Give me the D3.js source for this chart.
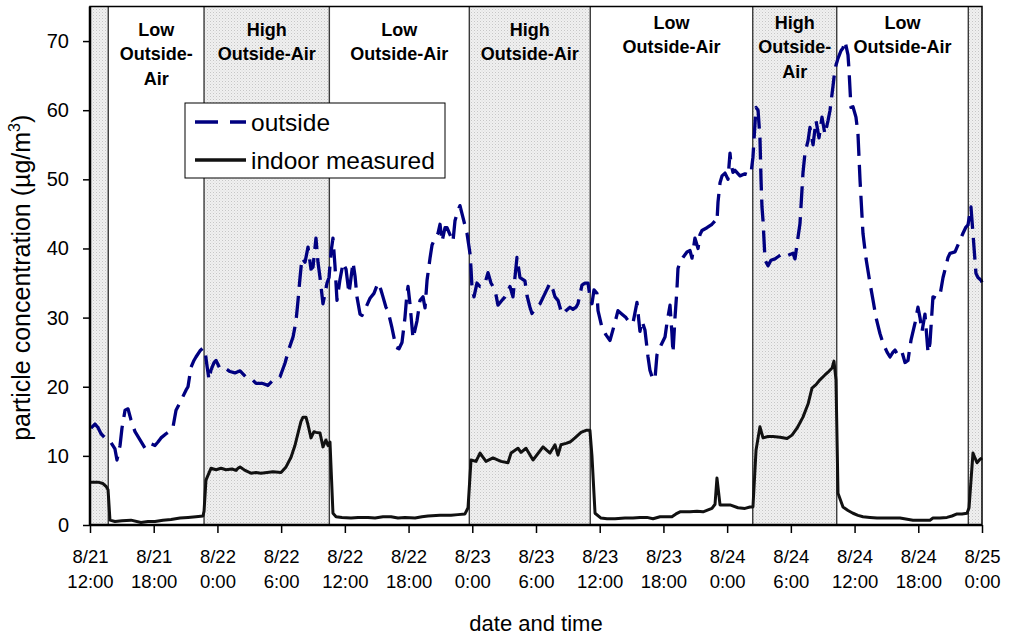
<!DOCTYPE html>
<html><head><meta charset="utf-8">
<script src="https://cdn.jsdelivr.net/npm/d3@7"></script>
<style>
body{margin:0;background:#fff}
svg{display:block;font-family:"Liberation Sans",Arial,Helvetica,sans-serif}
</style>
</head><body>
<svg id="chart" width="1010" height="637"></svg>
<script>
// ---------- DATA (hours after 8/21 12:00, concentration in µg/m3) ----------
const outsideHours = [0.09,0.47,0.75,1.04,1.41,1.98,2.35,2.54,2.83,3.01,3.30,3.58,3.86,4.24,4.71,5.18,5.65,6.12,6.40,6.69,7.16,7.53,7.82,8.10,8.57,9.04,9.23,9.51,9.79,9.98,10.36,10.64,10.83,11.02,11.21,11.39,11.68,11.87,12.24,12.71,13.18,13.65,14.13,14.69,15.16,15.63,16.20,16.76,17.14,17.52,17.89,18.36,18.74,19.12,19.40,19.59,19.78,19.96,20.25,20.53,20.81,21.00,21.28,21.47,21.66,21.94,22.13,22.32,22.51,22.70,22.88,23.07,23.26,23.54,23.83,24.11,24.39,24.77,24.96,25.14,25.43,25.61,25.99,26.37,26.74,27.12,27.40,27.59,27.87,28.06,28.44,28.82,29.10,29.38,29.66,29.85,29.95,30.13,30.42,30.79,31.08,31.36,31.55,31.74,32.02,32.21,32.49,32.77,32.96,33.15,33.43,33.62,33.90,34.18,34.37,34.65,34.84,35.12,35.50,35.78,35.88,35.97,36.16,36.44,36.73,36.91,37.20,37.48,37.76,38.14,38.42,38.80,39.08,39.55,39.83,40.21,40.49,40.78,40.96,41.15,41.43,41.62,42.00,42.38,42.85,43.32,43.60,43.79,44.07,44.35,44.54,44.82,45.20,45.48,45.77,45.95,46.33,46.61,46.90,47.08,47.27,47.46,47.74,47.84,48.21,48.59,48.97,49.44,49.72,50.10,50.47,50.85,51.13,51.51,51.79,51.98,52.26,52.55,52.73,53.02,53.21,53.39,53.77,54.15,54.33,54.62,54.80,54.90,55.09,55.27,55.37,55.56,55.84,56.22,56.50,56.69,56.97,57.26,57.44,57.63,58.10,58.57,58.86,59.04,59.14,59.33,59.52,59.80,60.08,60.27,60.36,60.55,60.74,61.21,61.68,62.06,62.25,62.43,62.62,62.72,62.91,63.09,63.19,63.28,63.38,63.57,63.85,64.13,64.51,64.79,65.26,65.73,66.20,66.39,66.67,66.86,67.14,67.33,67.62,67.80,68.09,68.37,68.65,68.93,69.21,69.50,69.69,69.97,70.16,70.25,70.44,70.72,70.91,71.10,71.38,71.47,71.66,71.85,72.13,72.32,72.51,72.79,73.08,73.45,73.74,74.02,74.39,74.68,75.06,75.34,75.62,75.81,76.09,76.47,76.75,77.03,77.31,77.69,77.97,78.16,78.35,78.63,78.92,79.10,79.38,79.67,80.04,80.33,80.61,80.80,80.99,81.46,81.93,82.21,82.49,82.68,82.96,83.15,83.43,83.62,83.91,84.00];
const outsideValues = [14.0,14.6,14.1,13.2,12.6,11.9,11.0,9.4,11.5,14.0,16.6,16.8,15.2,13.5,12.3,11.1,11.8,11.5,12.0,12.6,13.2,13.6,14.2,16.6,18.0,19.5,20.0,22.8,23.8,24.3,25.2,25.6,25.2,23.0,21.0,22.4,23.5,23.8,22.6,22.7,22.2,22.0,22.3,21.4,21.2,20.5,20.5,20.2,20.8,21.0,21.4,23.4,25.5,27.2,29.5,32.5,35.8,38.6,38.0,40.2,37.0,37.3,41.5,38.0,35.8,32.0,33.5,35.0,35.8,39.5,41.5,37.5,32.5,35.5,37.9,37.0,33.5,38.0,36.0,33.0,30.5,30.3,31.5,32.8,33.5,35.0,34.0,33.0,31.5,31.0,28.5,25.7,25.5,26.4,30.0,33.5,34.5,32.0,27.0,29.5,32.5,33.0,31.4,35.4,38.6,40.5,41.5,42.2,43.5,41.0,43.0,43.0,42.0,41.0,44.0,45.5,46.2,44.5,42.2,39.3,37.1,34.4,33.0,35.0,34.5,34.5,35.0,36.5,35.0,34.0,31.8,32.5,33.0,34.5,33.0,38.7,35.8,35.5,35.3,33.2,31.5,30.6,31.5,32.0,33.5,35.0,34.0,33.0,32.5,31.0,30.5,31.0,31.5,31.2,31.5,32.0,34.7,35.0,35.0,33.0,32.0,34.0,33.5,31.0,28.6,27.5,26.7,29.3,31.0,30.5,30.0,29.2,29.2,32.2,28.0,29.5,28.2,24.3,22.4,21.0,21.2,24.6,26.0,27.2,29.2,31.8,27.7,24.9,30.0,34.0,37.1,38.0,38.7,39.5,39.7,38.6,41.5,40.0,42.0,42.6,43.0,43.5,44.0,43.8,46.7,49.5,50.5,50.9,50.0,53.8,52.3,51.0,51.3,50.5,50.8,50.6,50.9,53.2,58.0,60.4,60.0,56.0,50.0,46.0,44.0,38.3,37.5,38.3,38.5,38.8,39.3,39.0,39.3,38.5,41.6,43.6,50.9,53.8,55.6,57.5,55.0,58.5,56.0,59.0,56.5,58.5,60.0,63.5,66.0,66.5,67.5,68.6,69.0,70.0,68.0,66.0,60.4,60.5,59.0,56.6,50.0,42.2,38.5,35.0,32.5,30.0,27.7,26.3,25.0,24.3,25.0,25.3,24.5,25.0,23.5,23.8,26.7,29.2,31.5,30.0,28.0,30.5,24.9,26.3,33.0,32.8,33.2,35.8,37.5,38.7,39.3,39.5,41.2,42.2,43.1,43.4,46.0,42.2,36.4,35.8,35.4,35.1];

const indoorHours = [0.09,0.75,1.22,1.51,1.70,1.88,2.35,3.01,3.86,4.80,5.46,6.12,6.87,7.63,8.48,9.23,9.98,10.64,10.74,10.92,11.39,11.87,12.34,12.81,13.37,13.75,13.94,14.13,14.60,15.16,15.63,16.10,16.67,17.23,17.99,18.46,18.93,19.30,19.59,19.87,20.06,20.34,20.53,20.81,21.09,21.28,21.66,21.94,22.22,22.41,22.60,22.88,23.17,23.73,24.58,25.24,26.18,26.84,27.59,28.35,29.00,29.66,30.61,31.26,31.83,32.96,34.00,34.65,35.31,35.60,35.88,36.35,36.73,37.29,37.95,38.70,39.36,39.65,40.30,40.59,41.06,41.72,42.66,43.32,43.79,44.07,44.35,44.82,45.20,45.67,46.24,46.71,47.08,47.27,47.56,48.12,48.69,49.44,50.38,51.13,51.79,52.45,53.02,53.68,54.33,54.80,55.18,55.56,56.50,57.16,57.73,58.57,58.86,59.04,59.33,60.27,61.02,61.68,62.15,62.43,62.72,63.09,63.38,63.85,64.32,64.98,65.64,66.11,66.58,67.14,67.62,67.99,68.37,68.74,69.21,69.50,69.88,70.06,70.25,70.44,70.91,71.38,71.85,72.32,72.79,73.45,74.11,75.15,76.28,77.50,78.35,79.10,79.38,80.04,80.70,81.17,81.65,82.11,82.59,82.78,83.15,83.53,83.81,84.00];
const indoorValues = [6.2,6.2,6.0,5.6,5.1,0.7,0.5,0.6,0.7,0.35,0.5,0.5,0.7,0.8,1.0,1.1,1.2,1.3,2.0,6.5,8.2,8.0,8.2,8.0,8.1,7.9,8.2,8.4,7.9,7.5,7.6,7.5,7.6,7.7,7.6,8.4,9.8,11.5,13.3,15.0,15.6,15.6,14.5,12.6,13.5,13.4,13.3,11.3,12.3,11.5,12.0,1.7,1.2,1.1,1.0,1.1,1.1,1.0,1.2,1.2,1.0,1.1,1.0,1.2,1.3,1.4,1.4,1.5,1.6,2.5,9.4,9.2,10.4,9.2,9.7,9.2,9.0,10.4,11.1,10.5,11.1,9.4,11.3,10.4,11.6,10.1,11.6,11.8,12.0,12.6,13.4,13.7,13.7,10.0,1.7,1.0,0.9,0.9,1.0,1.0,1.1,1.1,0.9,1.2,1.2,1.2,1.6,1.9,1.9,2.0,1.9,2.4,3.0,6.8,2.9,2.9,2.5,2.4,2.6,2.6,10.8,14.2,12.6,12.8,12.8,12.7,12.5,13.0,14.0,15.6,17.5,19.8,20.3,21.0,21.7,22.1,22.7,23.7,21.0,4.6,2.6,2.1,1.7,1.4,1.2,1.1,1.0,1.0,1.0,0.7,0.7,0.7,1.0,1.0,1.1,1.3,1.6,1.6,1.7,2.5,10.4,9.0,9.5,9.7];

// ventilation periods (boundaries in hours), shading flag and labels
const periodStarts = [0, 1.72, 10.74, 22.54, 35.72, 47.11, 62.41, 70.32, 82.71];
const periodEnds   = [1.72, 10.74, 22.54, 35.72, 47.11, 62.41, 70.32, 82.71, 84];
const periodShaded = [true, false, true, false, true, false, true, false, true];
const periodLabels = [[], ["Low","Outside-","Air"], ["High","Outside-Air"], ["Low","Outside-Air"], ["High","Outside-Air"], ["Low","Outside-Air"], ["High","Outside-","Air"], ["Low","Outside-Air"], []];
const periodLabelTop = [0, 35.5, 35.5, 35.5, 35.5, 28.5, 28.5, 28.5, 0];

const yTicks = [0,10,20,30,40,50,60,70];
const seriesNames = ["outside", "indoor measured"];
const startDate = new Date(2003, 7, 21, 12, 0, 0);
const spanHours = 84;

// ---------- LAYOUT ----------
const pL = 90, pR = 982, pT = 6.5, pB = 525;
const svg = d3.select("#chart");
const hourToDate = h => new Date(startDate.getTime() + h * 3600000);

const x = d3.scaleTime().domain([startDate, hourToDate(spanHours)]).range([pL, pR]);
const y = d3.scaleLinear().domain([0, 75]).range([pB, pT]);

// pattern for shaded periods
const defs = svg.append("defs");
const pat = defs.append("pattern").attr("id","dots").attr("patternUnits","userSpaceOnUse")
  .attr("width",3).attr("height",3);
pat.append("rect").attr("width",3).attr("height",3).attr("fill","#f0f0f0");
pat.append("rect").attr("width",1).attr("height",1).attr("fill","#c6c6c6");
pat.append("rect").attr("x",1.5).attr("y",1.5).attr("width",1).attr("height",1).attr("fill","#d8d8d8");

const periods = periodStarts.map((s,i)=>({s, e: periodEnds[i], shaded: periodShaded[i], label: periodLabels[i], ty: periodLabelTop[i]}));

svg.append("g").selectAll("rect").data(periods.filter(p=>p.shaded)).join("rect")
  .attr("x", p=>x(hourToDate(p.s))).attr("y", pT)
  .attr("width", p=>x(hourToDate(p.e))-x(hourToDate(p.s))).attr("height", pB-pT)
  .attr("fill","url(#dots)");

// boundaries
svg.append("g").selectAll("line").data(periodStarts.slice(1)).join("line")
  .attr("x1", h=>x(hourToDate(h))).attr("x2", h=>x(hourToDate(h)))
  .attr("y1", pT).attr("y2", pB)
  .attr("stroke","#3a3a3a").attr("stroke-width",1.4);

// lines
const outside = outsideHours.map((h,i)=>({d: hourToDate(h), v: outsideValues[i]}));
const indoor = indoorHours.map((h,i)=>({d: hourToDate(h), v: indoorValues[i]}));
const line = d3.line().x(p=>x(p.d)).y(p=>y(p.v));

svg.append("path").datum(indoor).attr("d", line)
  .attr("fill","none").attr("stroke","#111").attr("stroke-width",3).attr("stroke-linejoin","round");
svg.append("path").datum(outside).attr("d", line)
  .attr("fill","none").attr("stroke","#000080").attr("stroke-width",3.3)
  .attr("stroke-dasharray","22,9").attr("stroke-linejoin","round");

// period labels
const lab = svg.append("g").attr("font-weight","bold").attr("font-size",18).attr("fill","#000").attr("text-anchor","middle");
periods.forEach(p=>{
  if(!p.label.length) return;
  const cx = (x(hourToDate(p.s)) + x(hourToDate(p.e)))/2;
  const t = lab.append("text").attr("x", cx).attr("y", p.ty);
  p.label.forEach((ln,i)=>{
    t.append("tspan").attr("x", cx).attr("dy", i===0?0:24.5).text(ln);
  });
});

// axes
const yAxis = d3.axisLeft(y).tickValues(yTicks).tickSize(7).tickPadding(14);
const gy = svg.append("g").attr("transform",`translate(${pL},0)`).call(yAxis);
gy.select(".domain").remove();
gy.selectAll(".tick line").attr("stroke","#000").attr("stroke-width",1.5);
gy.selectAll(".tick text").attr("font-size",20).attr("font-family","Liberation Sans, Arial, sans-serif").attr("fill","#000");

const fmtDate = d3.timeFormat("%-m/%-d"), fmtTime = d3.timeFormat("%-H:%M");
const xAxis = d3.axisBottom(x).ticks(d3.timeHour.every(6)).tickSize(8).tickFormat("");
const gx = svg.append("g").attr("transform",`translate(0,${pB})`).call(xAxis);
gx.select(".domain").remove();
gx.selectAll(".tick line").attr("stroke","#000").attr("stroke-width",1.5);
gx.selectAll(".tick").each(function(d){
  const t = d3.select(this).append("text").attr("fill","#000").attr("font-size",18.5)
    .attr("font-family","Liberation Sans, Arial, sans-serif").attr("text-anchor","middle");
  t.append("tspan").attr("x",0).attr("y",38).text(fmtDate(d));
  t.append("tspan").attr("x",0).attr("y",63).text(fmtTime(d));
});

// plot border
svg.append("rect").attr("x",pL).attr("y",pT).attr("width",pR-pL).attr("height",pB-pT)
  .attr("fill","none").attr("stroke","#000").attr("stroke-width",1.5);
svg.append("line").attr("x1",pL).attr("x2",pL).attr("y1",pT).attr("y2",pB+0.75).attr("stroke","#000").attr("stroke-width",2.5);
svg.append("line").attr("x1",pL).attr("x2",pR).attr("y1",pB).attr("y2",pB).attr("stroke","#000").attr("stroke-width",2.5);

// axis titles
svg.append("text").attr("x",(pL+pR)/2).attr("y",631).attr("text-anchor","middle")
  .attr("font-size",22).attr("fill","#000").text("date and time");
const yt = svg.append("text").attr("transform",`translate(30,${(pT+pB)/2 + 12}) rotate(-90)`)
  .attr("text-anchor","middle").attr("font-size",25).attr("fill","#000");
yt.append("tspan").text("particle concentration (µg/m");
yt.append("tspan").attr("font-size",16).attr("dy",-10).text("3");
yt.append("tspan").attr("dy",10).text(")");

// legend
const lg = svg.append("g");
lg.append("rect").attr("x",185).attr("y",103).attr("width",260).attr("height",75)
  .attr("fill","#fff").attr("stroke","#000").attr("stroke-width",1);
const legendItems = [
  {name: seriesNames[0], stroke:"#000080", dash:"23,12", y:122},
  {name: seriesNames[1], stroke:"#111", dash:null, y:160}
];
legendItems.forEach(it=>{
  lg.append("line").attr("x1",195).attr("x2",246).attr("y1",it.y).attr("y2",it.y)
    .attr("stroke",it.stroke).attr("stroke-width",3.3).attr("stroke-dasharray",it.dash);
  lg.append("text").attr("x",251).attr("y",it.y+8.5).attr("font-size",24.5).attr("fill","#000").text(it.name);
});
</script>
</body></html>
